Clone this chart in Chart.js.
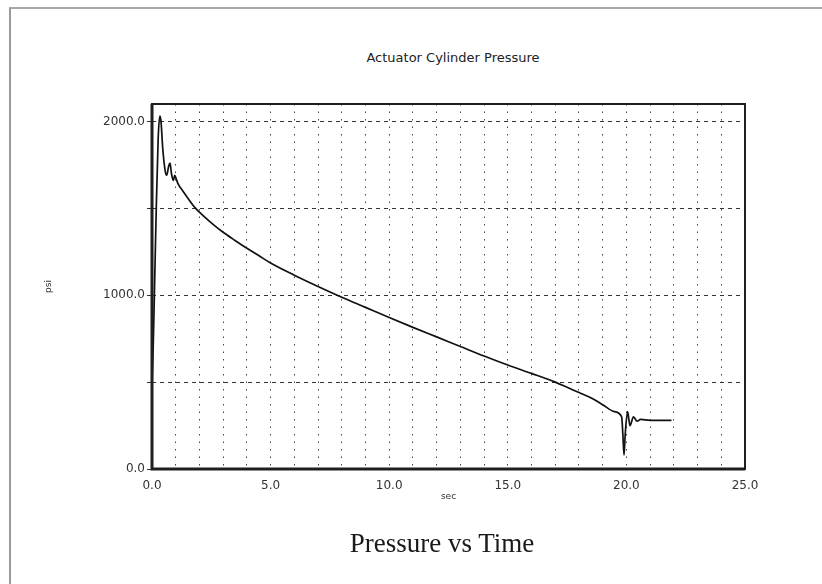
<!DOCTYPE html>
<html>
<head>
<meta charset="utf-8">
<script src="https://cdn.jsdelivr.net/npm/chart.js@4.4.1/dist/chart.umd.min.js"></script>
<style>
    html, body { margin: 0; padding: 0; background: #fff; }
    #wrap { position: relative; width: 822px; height: 584px; overflow: hidden; }
    #frame { position: absolute; left: 9px; top: 7px; width: 900px; height: 700px; border-top: 2px solid #a8a8a8; border-left: 2px solid #9a9a9a; }
    #chartTitle { position: absolute; left: 253px; top: 50px; width: 400px; text-align: center; font: 13px "DejaVu Sans", sans-serif; line-height: 16px; color: #222; }
    #caption { position: absolute; left: 242px; top: 530px; width: 400px; text-align: center; font: 27px "Liberation Serif", "Times New Roman", serif; line-height: 27px; color: #1a1a1a; }
    canvas { position: absolute; left: 0; top: 0; }
</style>
</head>
<body>
<div id="wrap">
    <div id="frame"></div>
    <div id="chartTitle">Actuator Cylinder Pressure</div>
    <canvas id="pressureChart" width="822" height="584"></canvas>
    <div id="caption">Pressure vs Time</div>
</div>
<script>
// time (sec) and cylinder pressure (psi)
const timeSec = [0, 0.05, 0.1, 0.18, 0.26, 0.33, 0.38, 0.45, 0.55, 0.62, 0.7, 0.76, 0.82, 0.9, 0.96, 1.02, 1.1, 1.3, 1.5, 1.8, 2.2, 2.6, 3, 3.5, 4, 4.5, 5, 6, 7, 8, 9, 10, 11, 12, 13, 14, 15, 16, 17, 17.5, 18, 18.5, 19, 19.5, 19.8, 19.85, 19.9, 19.95, 20.05, 20.15, 20.3, 20.45, 20.6, 21, 21.9];
const pressurePsi = [480, 700, 1000, 1500, 1900, 2030, 2000, 1850, 1720, 1690, 1740, 1760, 1700, 1660, 1690, 1670, 1640, 1600, 1560, 1505, 1452, 1405, 1362, 1315, 1270, 1228, 1185, 1115, 1050, 988, 930, 872, 815, 760, 705, 650, 598, 550, 500, 470, 440, 410, 370, 330, 300, 200, 80, 200, 330, 250, 300, 275, 285, 280, 280];

// grid positions and which of them carry a label
const xGridValues = [0, 1, 2, 3, 4, 5, 6, 7, 8, 9, 10, 11, 12, 13, 14, 15, 16, 17, 18, 19, 20, 21, 22, 23, 24, 25];
const xLabelValues = [0, 5, 10, 15, 20, 25];
const yGridValues = [0, 500, 1000, 1500, 2000];
const yLabelValues = [0, 1000, 2000];

const tickFont = { family: 'DejaVu Sans', size: 12 };
const axisTitleFont = { family: 'DejaVu Sans', size: 9 };

const points = timeSec.map((t, i) => ({ x: t, y: pressurePsi[i] }));

// heavy box around the plot area
const plotFrame = {
    id: 'plotFrame',
    afterDraw(chart) {
        const { ctx, chartArea: a } = chart;
        ctx.save();
        ctx.strokeStyle = '#1e1e1e';
        ctx.lineWidth = 2;
        ctx.strokeRect(a.left, a.top, a.right - a.left, a.bottom - a.top);
        ctx.lineWidth = 3;
        ctx.beginPath();
        ctx.moveTo(a.left, a.top);
        ctx.lineTo(a.left, a.bottom);
        ctx.lineTo(a.right, a.bottom);
        ctx.stroke();
        ctx.restore();
    }
};

const ctx = document.getElementById('pressureChart').getContext('2d');
new Chart(ctx, {
    type: 'line',
    data: {
        datasets: [{
            data: points,
            borderColor: '#111',
            borderWidth: 1.7,
            pointRadius: 0,
            cubicInterpolationMode: 'monotone',
            fill: false
        }]
    },
    options: {
        responsive: false,
        animation: false,
        layout: { padding: { left: 30, top: 104, right: 77, bottom: 80 } },
        plugins: {
            legend: { display: false },
            tooltip: { enabled: false }
        },
        scales: {
            x: {
                type: 'linear',
                min: 0,
                max: 25,
                afterFit(scale) { scale.height = 35; },
                afterBuildTicks(scale) { scale.ticks = xGridValues.map(v => ({ value: v })); },
                grid: { color: '#444', lineWidth: 1, drawTicks: false },
                border: { display: false, dash: [1.5, 6] },
                ticks: {
                    autoSkip: false,
                    maxRotation: 0,
                    padding: 10,
                    color: '#333',
                    font: tickFont,
                    callback: v => (xLabelValues.includes(v) ? v.toFixed(1) : '')
                },
                title: { display: true, text: 'sec', color: '#333', font: axisTitleFont, padding: { top: 0, bottom: 2 } }
            },
            y: {
                min: 0,
                max: 2100,
                afterFit(scale) { scale.width = 122; },
                afterBuildTicks(scale) { scale.ticks = yGridValues.map(v => ({ value: v })); },
                grid: { color: '#333', lineWidth: 1, tickLength: 5, tickColor: '#333' },
                border: { display: false, dash: [4, 4] },
                ticks: {
                    padding: 2,
                    color: '#333',
                    font: tickFont,
                    callback: v => (yLabelValues.includes(v) ? v.toFixed(1) : '')
                },
                title: { display: true, text: 'psi', color: '#333', font: axisTitleFont, padding: { top: 13, bottom: 0 } }
            }
        }
    },
    plugins: [plotFrame]
});
</script>
</body>
</html>
